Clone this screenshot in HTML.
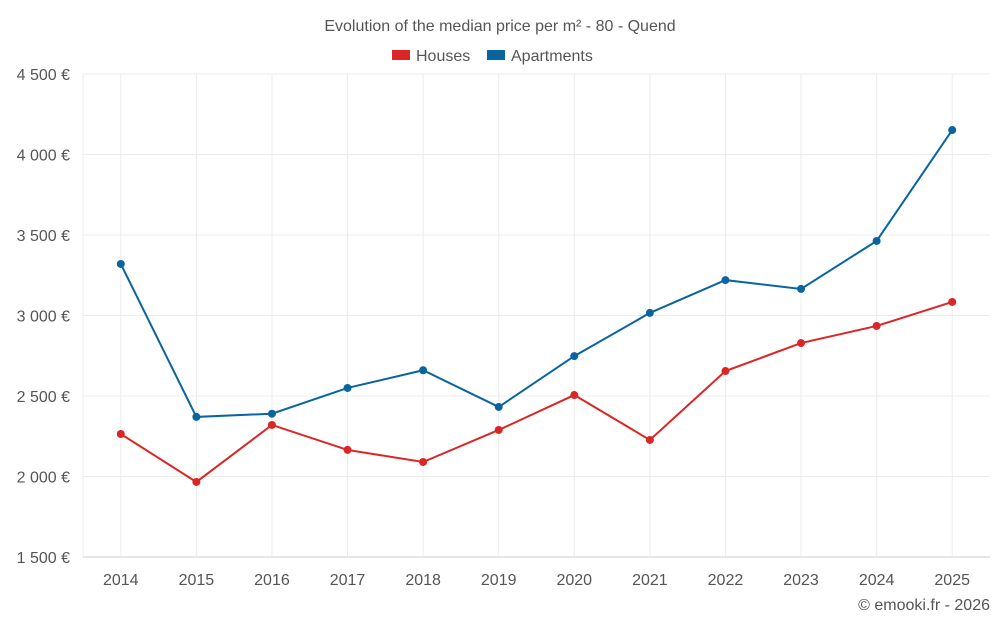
<!DOCTYPE html>
<html><head><meta charset="utf-8"><style>
body{margin:0;background:#fff;font-family:"Liberation Sans",sans-serif;}
svg text{font-family:"Liberation Sans",sans-serif;}
</style></head><body>
<svg id="c" width="1000" height="625">
<text x="500" y="31" text-anchor="middle" font-size="16" fill="#555">Evolution of the median price per m² - 80 - Quend</text>
<g><rect x="392" y="50" width="18" height="10" fill="#dc2626"/><text x="416" y="61" font-size="16" fill="#555">Houses</text></g>
<g><rect x="487" y="50" width="18" height="10" fill="#0a64a0"/><text x="511" y="61" font-size="16" fill="#555">Apartments</text></g>
<text x="990" y="610" text-anchor="end" font-size="16" fill="#555">© emooki.fr - 2026</text>
<g id="grid"></g><g id="axes"></g><g id="series"></g>
</svg>
<script>
const years=["2014","2015","2016","2017","2018","2019","2020","2021","2022","2023","2024","2025"];
const houses=[2264,1966,2320,2165,2090,2289,2506,2227,2655,2829,2935,3084];
const apartments=[3320,2370,2390,2550,2660,2432,2748,3016,3220,3165,3463,4152];
const yTicks=[1500,2000,2500,3000,3500,4000,4500];
const yLabels=["1 500 €","2 000 €","2 500 €","3 000 €","3 500 €","4 000 €","4 500 €"];
const L=83,R=990,T=74,B=557,yMin=1500,yMax=4500;
const step=(R-L)/years.length;
const x=i=>L+step*(i+0.5);
const y=v=>B-(v-yMin)/(yMax-yMin)*(B-T);
const NS="http://www.w3.org/2000/svg";
function mk(tag,at,p){const e=document.createElementNS(NS,tag);for(const k in at)e.setAttribute(k,at[k]);p.appendChild(e);return e;}
const g=document.getElementById('grid'),ax=document.getElementById('axes'),s=document.getElementById('series');
yTicks.forEach((t,i)=>{
 const l=mk('line',{x1:L,x2:R,y1:y(t),y2:y(t),stroke:i==0?'#ccc':'#ececec'},g);
 
 
 const tx=mk('text',{x:70,y:y(t)+6,'text-anchor':'end','font-size':16,fill:'#555'},ax);
 tx.textContent=yLabels[i];
 
 
});
mk('line',{x1:L,x2:L,y1:T,y2:B,stroke:'#ececec'},g);
years.forEach((yr,i)=>{
 const l=mk('line',{x1:x(i),x2:x(i),y1:T,y2:B,stroke:'#ececec'},g);
 
 
 const tx=mk('text',{x:x(i),y:585,'text-anchor':'middle','font-size':16,fill:'#555'},ax);
 tx.textContent=yr;
 
 
});
[[apartments,'#0a64a0','apartments'],[houses,'#dc2626','houses']].forEach(([d,c,n])=>{
 const p=mk('polyline',{points:d.map((v,i)=>x(i)+','+y(v)).join(' '),fill:'none',stroke:c,'stroke-width':2},s);
 
 
 d.forEach((v,i)=>{
  const pt=mk('circle',{cx:x(i),cy:y(v),r:4,fill:c},s);
  
  
 });
});
</script>
</body></html>
